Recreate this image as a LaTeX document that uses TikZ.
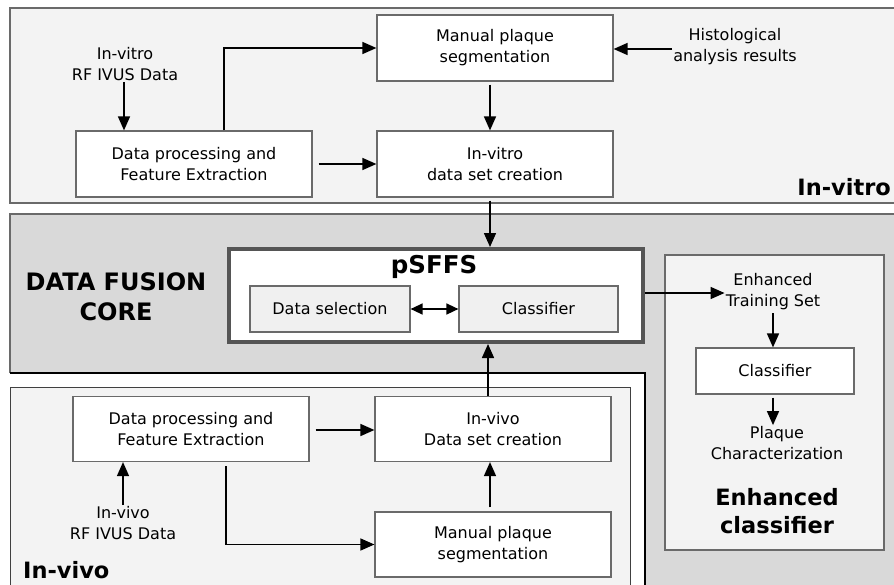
\documentclass[tikz,border=0pt]{standalone}
\usepackage{fontspec}
\setmainfont{DejaVu Sans}
\usetikzlibrary{arrows.meta}
\definecolor{panelL}{HTML}{F3F3F3}
\definecolor{panelG}{HTML}{D9D9D9}
\definecolor{boxline}{HTML}{6A6A6A}
\definecolor{psline}{HTML}{555555}
\definecolor{inbox}{HTML}{F0F0F0}
\begin{document}
\begin{tikzpicture}[x=1pt,y=-1pt,
  txt/.style={font=\fontsize{16}{21}\selectfont, align=center, inner sep=1pt},
  blk/.style={txt, draw=boxline, line width=1.2pt, fill=white, minimum width=236pt, minimum height=66pt},
  ibox/.style={txt, draw=boxline, line width=1.2pt, fill=inbox, minimum width=159pt, minimum height=46pt},
  big/.style={font=\fontsize{22.5}{28}\selectfont\bfseries, align=center, inner sep=0pt},
  arr/.style={line width=1.5pt, -{Triangle[length=14pt,width=12pt]}},
  darr/.style={line width=1.5pt, {Triangle[length=12pt,width=11pt]}-{Triangle[length=12pt,width=11pt]}}]
\useasboundingbox (0,0) rectangle (894,584);
\fill[white] (0,0) rectangle (894,584);
% panels
\filldraw[fill=panelL, draw=boxline, line width=1.2pt] (10,8) rectangle (900,203);
\fill[panelG] (10,214) -- (900,214) -- (900,590) -- (645,590) -- (645,373) -- (10,373) -- cycle;
\draw[boxline, line width=1.4pt] (10,373) -- (10,214) -- (900,214);
\draw[black, line width=1.4pt] (10,373) -- (645,373) -- (645,590);
\filldraw[fill=panelL, draw=black!75, line width=1pt] (10,387) rectangle (630,590);
\filldraw[fill=panelL, draw=boxline, line width=1.2pt] (665,255) rectangle (884,550);
% in-vitro
\node[txt] (vrf) at (125,64) {In-vitro\\RF IVUS Data};
\node[blk] (vdp) at (194,164) {Data processing and\\Feature Extraction};
\node[blk] (vman) at (495,48) {Manual plaque\\segmentation};
\node[blk] (vset) at (495,164) {In-vitro\\data set creation};
\node[txt] (hist) at (735,47) {Histological\\analysis results};
\node[big, anchor=base east] (vitrolab) at (891,195) {In-vitro};
% fusion core
\node[big, font=\fontsize{24}{30}\selectfont\bfseries] (dfc) at (116,297) {DATA FUSION\\CORE};
\node[draw=psline, line width=4pt, fill=white, minimum width=414pt, minimum height=93pt] (psffs) at (436,295.5) {};
\node[big, font=\fontsize{24.5}{28}\selectfont\bfseries] (pstitle) at (434,267) {pSFFS};
\node[ibox, minimum width=160pt] (dsel) at (330,309) {Data selection};
\node[ibox] (cls) at (538.5,309) {Classifier};
% enhanced classifier
\node[txt] (ets) at (773,292) {Enhanced\\Training Set};
\node[blk, minimum width=158pt, minimum height=46pt] (ecls) at (775,371) {Classifier};
\node[txt] (plaque) at (777,443) {Plaque\\Characterization};
\node[big] (enhlab) at (777,511) {Enhanced\\classifier};
% in-vivo
\node[blk, minimum height=65pt] (ivdp) at (191,429) {Data processing and\\Feature Extraction};
\node[blk, minimum height=65pt] (ivset) at (493,429) {In-vivo\\Data set creation};
\node[blk, minimum height=65pt] (ivman) at (493,544.5) {Manual plaque\\segmentation};
\node[txt] (ivrf) at (123,523) {In-vivo\\RF IVUS Data};
\node[big, anchor=base west] (vivolab) at (23,578) {In-vivo};
% connectors in-vitro
\draw[arr] (vrf.south -| 124,0) -- (vdp.north -| 124,0);
\draw[arr] ([xshift=30pt]vdp.north) |- (vman.west);
\draw[arr, shorten <=6pt] (vdp.east |- 0,164) -- (vset.west |- 0,164);
\draw[arr, shorten <=3pt] (vman.south -| 490,0) -- (vset.north -| 490,0);
\draw[arr, shorten <=3pt] (vset.south -| 490,0) -- (psffs.north -| 490,0);
\draw[arr] (hist.west |- 0,49) -- (vman.east |- 0,49);
% fusion core
\draw[darr] (dsel.east) -- (cls.west);
\draw[arr] (psffs.east |- 0,293) -- (ets.west |- 0,293);
\draw[arr, shorten <=2pt] (ets.south -| 773,0) -- (ecls.north -| 773,0);
\draw[arr, shorten <=3pt] (ecls.south -| 773,0) -- (plaque.north -| 773,0);
% in-vivo
\draw[arr] (ivrf.north -| 123,0) -- (ivdp.south -| 123,0);
\draw[arr, shorten <=6pt] (ivdp.east |- 0,430) -- (ivset.west |- 0,430);
\draw[arr, shorten <=4pt] ([xshift=35pt]ivdp.south) |- (ivman.west);
\draw[arr, shorten <=4pt] (ivman.north -| 490,0) -- (ivset.south -| 490,0);
\draw[arr] (ivset.north -| 488,0) -- (psffs.south -| 488,0);
\end{tikzpicture}
\end{document}
